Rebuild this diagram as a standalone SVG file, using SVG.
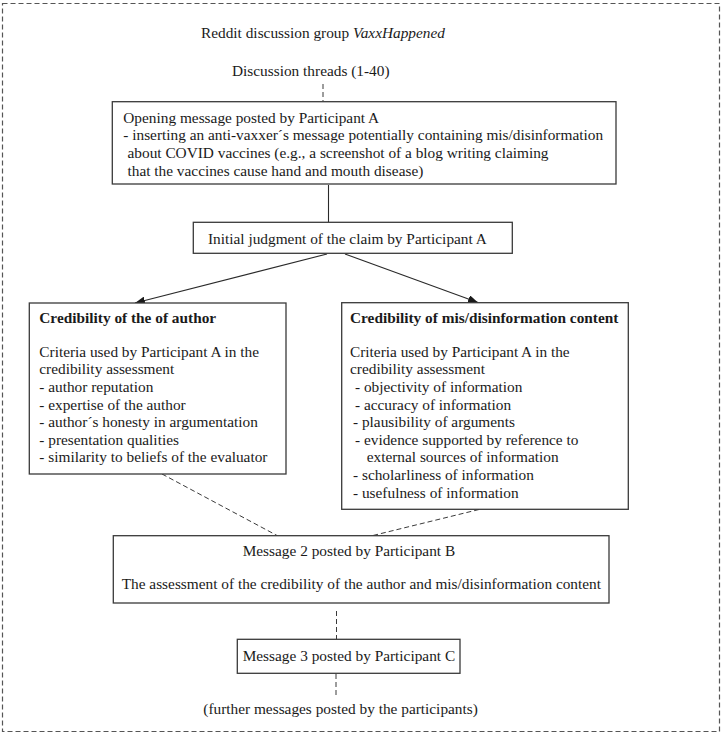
<svg xmlns="http://www.w3.org/2000/svg" width="724" height="737" viewBox="0 0 724 737">
<style>
text { font-family: "Liberation Serif", "Times New Roman", serif; font-size: 15.33px; fill: #1a1a1a; }
.b { font-weight: bold; }
.i { font-style: italic; }
.box { fill: #ffffff; stroke: #3a3a3a; stroke-width: 1.3; }
.solid { stroke: #2a2a2a; stroke-width: 1.1; fill: none; }
.dash { stroke: #3a3a3a; stroke-width: 1; stroke-dasharray: 5 3; fill: none; }
.frame { fill: none; stroke: #555555; stroke-width: 1.2; stroke-dasharray: 5 3; }
</style>
<defs>
<marker id="arr" viewBox="0 0 10 8" refX="10" refY="4" markerWidth="10" markerHeight="8" markerUnits="userSpaceOnUse" orient="auto">
<path d="M0,0 L10,4 L0,8 z" fill="#1a1a1a"/>
</marker>
</defs>
<rect width="724" height="737" fill="#ffffff"/>
<rect class="frame" x="2.5" y="3.5" width="717" height="728"/>

<g id="title">
<text x="201" y="37.5">Reddit discussion group <tspan class="i">VaxxHappened</tspan></text>
</g>
<g id="threads">
<text x="232" y="76">Discussion threads (1-40)</text>
</g>

<g id="connectors">
<line class="dash" x1="323" y1="84" x2="323" y2="101"/>
<line class="solid" x1="328.5" y1="185" x2="328.5" y2="222"/>
<line class="solid" x1="327" y1="254" x2="135" y2="303" marker-end="url(#arr)"/>
<line class="solid" x1="345" y1="254" x2="478" y2="302.5" marker-end="url(#arr)"/>
<line class="dash" x1="162" y1="474" x2="277" y2="535.5"/>
<line class="dash" x1="479" y1="509.5" x2="373" y2="535.5"/>
<line class="dash" x1="336.5" y1="611" x2="336.5" y2="639"/>
<line class="dash" x1="336" y1="674" x2="336" y2="698"/>
</g>

<g id="opening">
<rect class="box" x="112.3" y="101.7" width="503.7" height="82.3"/>
<text x="123.3" y="122.7">Opening message posted by Participant A</text>
<text x="123.3" y="140.3">- inserting an anti-vaxxer´s message potentially containing mis/disinformation</text>
<text x="127.5" y="157.9">about COVID vaccines (e.g., a screenshot of a blog writing claiming</text>
<text x="127.5" y="175.5">that the vaccines cause hand and mouth disease)</text>
</g>

<g id="initial">
<rect class="box" x="193.3" y="222.3" width="319" height="31"/>
<text x="208" y="244">Initial judgment of the claim by Participant A</text>
</g>

<g id="author">
<rect class="box" x="29.3" y="303" width="256.7" height="171"/>
<text class="b" x="39.3" y="323.3">Credibility of the of author</text>
<text x="39.3" y="356.7">Criteria used by Participant A in the</text>
<text x="39.3" y="374.3">credibility assessment</text>
<text x="39.3" y="391.9">- author reputation</text>
<text x="39.3" y="409.5">- expertise of the author</text>
<text x="39.3" y="427.1">- author´s honesty in argumentation</text>
<text x="39.3" y="444.7">- presentation qualities</text>
<text x="39.3" y="462.3">- similarity to beliefs of the evaluator</text>
</g>

<g id="content">
<rect class="box" x="341.7" y="302.7" width="286.6" height="206.6"/>
<text class="b" x="350" y="323.3">Credibility of mis/disinformation content</text>
<text x="350" y="356.7">Criteria used by Participant A in the</text>
<text x="350" y="374.3">credibility assessment</text>
<text x="355" y="391.9">- objectivity of information</text>
<text x="355" y="409.5">- accuracy of information</text>
<text x="353" y="427.1">- plausibility of arguments</text>
<text x="355" y="444.7">- evidence supported by reference to</text>
<text x="366.7" y="462.3">external sources of information</text>
<text x="353" y="479.9">- scholarliness of information</text>
<text x="353" y="497.5">- usefulness of information</text>
</g>

<g id="message2">
<rect class="box" x="113.3" y="535.7" width="495.7" height="67.3"/>
<text x="242.7" y="555.5">Message 2 posted by Participant B</text>
<text x="121.7" y="588.5">The assessment of the credibility of the author and mis/disinformation content</text>
</g>

<g id="message3">
<rect class="box" x="237.3" y="639.3" width="222.7" height="34"/>
<text x="242.7" y="661">Message 3 posted by Participant C</text>
</g>

<g id="further">
<text x="203.3" y="714">(further messages posted by the participants)</text>
</g>
</svg>
